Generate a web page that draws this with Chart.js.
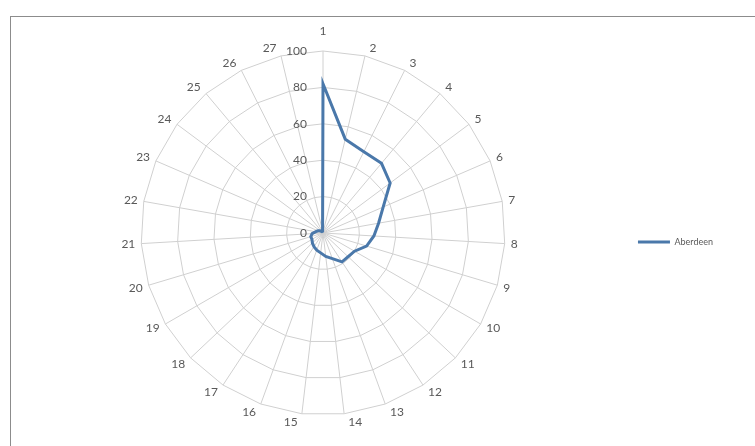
<!DOCTYPE html>
<html>
<head>
<meta charset="utf-8">
<script src="https://cdn.jsdelivr.net/npm/chart.js@4"></script>
<style>
  html, body { margin: 0; padding: 0; background: #fff; }
  #wrap { position: relative; width: 755px; height: 446px; overflow: hidden; }
  #frame { position: absolute; left: 10px; top: 16px; width: 760px; height: 440px; border: 1px solid #8c8c8c; box-sizing: border-box; }
  canvas { position: absolute; left: 0; top: 0; }
</style>
</head>
<body>
<div id="wrap">
  <div id="frame"></div>
  <canvas id="radar" width="755" height="446"></canvas>
</div>
<script>
const categories = ['1', '2', '3', '4', '5', '6', '7', '8', '9', '10', '11', '12', '13', '14',
  '15', '16', '17', '18', '19', '20', '21', '22', '23', '24', '25', '26', '27'];
const aberdeen = [82, 53, 50, 50, 46, 36, 31, 28, 25, 20, 19, 19, 15, 13,
  11, 10, 9, 8, 7, 7, 6, 4, 3, 2, 1, 1, 1];
const tickValues = [0, 20, 40, 60, 80, 100];

const textColor = '#595959';
const gridColor = '#d0d0d0';
const lineColor = '#4a78aa';

// tick labels sit to the left of the vertical axis, like Excel does
const tickLabelPlugin = {
  id: 'tickLabels',
  afterDatasetsDraw(chart) {
    const s = chart.scales.r;
    const ctx = chart.ctx;
    ctx.save();
    ctx.font = '12px Lato';
    ctx.fillStyle = textColor;
    ctx.textAlign = 'right';
    ctx.textBaseline = 'middle';
    tickValues.forEach(v => {
      const d = s.getDistanceFromCenterForValue(v);
      ctx.fillText(String(v), s.xCenter - 16, s.yCenter - d);
    });
    ctx.restore();
  }
};

// category labels hug the spoke ends (Excel style) instead of chart.js placement
const pointLabelPlugin = {
  id: 'spokeLabels',
  afterDraw(chart) {
    const s = chart.scales.r;
    const ctx = chart.ctx;
    ctx.save();
    ctx.font = '12px Lato';
    ctx.fillStyle = textColor;
    ctx.textAlign = 'center';
    ctx.textBaseline = 'middle';
    categories.forEach((lab, i) => {
      const a = s.getIndexAngle(i);
      const sin = Math.sin(a), cos = Math.cos(a);
      const p = s.getPointPosition(i, s.drawingArea + 2);
      const w = ctx.measureText(lab).width;
      const side = Math.abs(sin) < 0.01 ? 0 : Math.sign(sin);
      const x = p.x + side * (w / 2 + 4);
      let y = p.y - cos * 6.5;
      if (i === 0) y -= 11; // pushed up clear of the "100" tick label
      ctx.fillText(lab, x, y);
    });
    ctx.restore();
  }
};

new Chart(document.getElementById('radar').getContext('2d'), {
  type: 'radar',
  data: {
    labels: categories,
    datasets: [{
      label: 'Aberdeen',
      data: aberdeen,
      borderColor: lineColor,
      backgroundColor: lineColor,
      borderWidth: 3,
      fill: false,
      pointRadius: 0,
      tension: 0
    }]
  },
  options: {
    responsive: false,
    animation: false,
    layout: { padding: { left: 14, right: 32, top: 51, bottom: 31 } },
    plugins: {
      legend: {
        position: 'right',
        // empty title just pushes the entry a bit below the middle
        title: { display: true, text: '', font: { size: 10 }, padding: 3 },
        labels: {
          usePointStyle: true,
          pointStyle: 'line',
          pointStyleWidth: 32,
          color: textColor,
          font: { family: 'Lato', size: 9 },
          padding: 4
        }
      },
      tooltip: { enabled: false }
    },
    scales: {
      r: {
        min: 0,
        max: 100,
        ticks: { stepSize: 20, display: false },
        grid: { color: gridColor, lineWidth: 1 },
        angleLines: { color: gridColor, lineWidth: 1 },
        pointLabels: { display: false }
      }
    }
  },
  plugins: [tickLabelPlugin, pointLabelPlugin]
});
</script>
</body>
</html>
